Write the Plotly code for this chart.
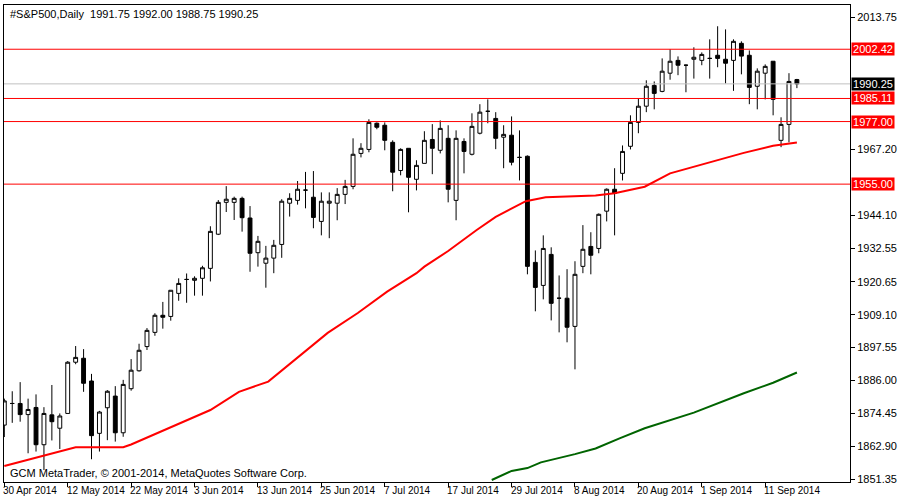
import plotly.graph_objects as go

opens = [1870.3,1877.9,1877.9,1874.0,1876.5,1863.4,1873.9,1869.2,1874.4,1892.4,
         1893.8,1885.8,1867.4,1876.4,1880.5,1867.6,1883.1,1889.4,1897.9,1902.9,
         1908.9,1908.5,1916.6,1921.5,1921.2,1921.9,1925.4,1937.4,1948.6,1948.6,
         1950.0,1943.1,1930.9,1927.2,1929.0,1933.8,1948.3,1949.3,1952.9,1950.4,
         1941.9,1948.3,1948.3,1951.4,1954.2,1965.8,1967.2,1976.4,1975.7,1969.7,
         1959.8,1967.6,1956.7,1962.3,1970.7,1966.9,1971.1,1949.3,1970.0,1965.5,
         1972.9,1980.6,1978.1,1971.5,1972.2,1964.4,1964.8,1927.5,1919.4,1930.3,
         1914.9,1914.9,1905.0,1926.1,1933.1,1932.4,1945.5,1953.2,1958.8,1968.3,
         1976.7,1982.4,1989.7,1987.6,1994.0,1998.5,1996.8,1998.9,1998.5,1999.2,
         2000.3,1998.9,1998.5,2004.5,2000.3,1989.4,1994.0,1998.2,1970.4,1976.0,
         1991.75]
highs = [1879.6,1882.2,1885.4,1879.6,1881.1,1876.6,1884.4,1874.4,1892.8,1898.1,
         1897.0,1888.3,1875.3,1882.6,1884.0,1886.2,1893.5,1898.9,1904.4,1909.6,
         1913.6,1917.7,1921.9,1923.6,1922.6,1926.3,1940.2,1949.4,1954.3,1950.6,
         1950.6,1947.3,1936.8,1933.3,1935.4,1949.7,1951.8,1956.1,1959.3,1959.6,
         1952.1,1952.1,1953.6,1956.5,1971.1,1969.4,1977.8,1976.7,1976.7,1970.4,
         1967.6,1967.6,1963.4,1973.6,1976.1,1977.4,1975.7,1973.9,1971.1,1979.9,
         1983.1,1984.8,1980.3,1975.7,1978.8,1973.9,1965.1,1931.7,1937.0,1932.8,
         1922.9,1925.1,1927.9,1940.6,1938.1,1944.7,1953.5,1960.6,1968.6,1979.2,
         1985.2,1991.5,1991.1,1999.2,2002.4,1999.9,1997.1,2003.1,2001.3,2005.9,
         2010.5,2009.4,2005.9,2005.2,2002.0,1995.7,1997.1,1998.2,1978.5,1994.0,
         1992.00]
lows = [1866.1,1871.1,1871.5,1860.4,1861.0,1854.5,1864.9,1861.9,1874.4,1891.7,
        1882.0,1858.3,1861.0,1865.0,1864.5,1866.2,1882.4,1889.1,1896.7,1901.7,
        1904.2,1907.0,1914.0,1913.3,1915.8,1915.8,1920.8,1937.1,1945.2,1942.4,
        1938.3,1924.2,1926.0,1918.6,1923.7,1929.1,1943.6,1947.8,1946.5,1939.5,
        1937.0,1936.0,1942.3,1948.0,1953.2,1964.4,1966.2,1974.3,1966.9,1952.5,
        1958.1,1945.1,1952.8,1962.3,1958.5,1965.8,1948.6,1942.3,1958.8,1965.1,
        1972.5,1976.4,1967.3,1960.6,1961.6,1956.3,1923.3,1910.3,1914.5,1907.1,
        1902.9,1899.4,1889.9,1923.7,1923.3,1930.7,1941.9,1937.0,1956.3,1967.2,
        1972.9,1980.3,1981.3,1987.3,1991.7,1993.3,1987.3,1992.1,1996.8,1992.1,
        1996.1,1990.4,1987.8,1993.6,1983.1,1981.3,1984.8,1979.2,1968.0,1969.7,
        1988.75]
closes = [1878.8,1877.9,1874.0,1875.8,1863.4,1874.4,1871.5,1873.5,1892.4,1894.1,
          1885.0,1866.6,1874.9,1882.2,1867.6,1884.6,1889.6,1896.6,1903.6,1908.9,
          1908.2,1917.7,1920.1,1921.5,1921.9,1925.6,1938.4,1948.6,1949.7,1950.0,
          1943.2,1930.7,1934.9,1929.0,1933.5,1949.0,1950.0,1953.2,1952.9,1943.3,
          1949.0,1949.0,1951.4,1954.2,1965.5,1967.6,1976.7,1975.0,1970.4,1959.2,
          1967.2,1957.4,1961.6,1970.4,1967.6,1974.6,1953.2,1971.1,1966.5,1975.3,
          1980.3,1980.6,1971.1,1972.5,1962.7,1964.4,1926.1,1918.7,1932.4,1913.1,
          1914.9,1904.7,1923.3,1932.1,1930.0,1944.4,1953.2,1951.8,1966.5,1976.7,
          1982.4,1989.4,1986.9,1994.7,1998.2,1996.8,1996.8,1999.6,2000.6,1999.2,
          1999.2,1997.5,2005.2,2000.0,1989.0,1994.7,1996.4,1984.8,1976.0,1991.1,
          1990.25]

ma_red_idx = [0,9,15,16,26,29.6,33.3,37,40.8,44.6,48.3,52,53,56,59.6,62,64.6,65.8,68.3,74.6,77,80.8,84,87,93.3,97,98.7,100]
ma_red_val = [1855.9,1862.5,1862.5,1863.5,1875.6,1882.0,1885.6,1893.9,1902.7,1909.7,1917.2,1923.7,1926.0,1931.5,1938.9,1943.5,1947.1,1949.0,1950.4,1951.0,1951.8,1954.1,1958.8,1961.1,1966.0,1968.5,1969.1,1969.6]
ma_green_idx = [61.5,64,66,67.7,72,74.6,77.7,80.8,87,93.3,97,100]
ma_green_val = [1851.0,1854.2,1855.2,1857.2,1860.1,1862.1,1865.7,1869.2,1874.7,1881.5,1885.2,1888.8]

date_tick_idx = [0,8,16,24,32,40,48,56,64,72,80,88,96]
date_tick_labels = ["30 Apr 2014","12 May 2014","22 May 2014","3 Jun 2014","13 Jun 2014",
                    "25 Jun 2014","7 Jul 2014","17 Jul 2014","29 Jul 2014","8 Aug 2014",
                    "20 Aug 2014","1 Sep 2014","11 Sep 2014"]
price_ticks = [2013.75,1967.20,1944.10,1932.55,1920.65,1909.10,1897.55,1886.00,1874.45,1862.90,1851.35]
red_levels = [2002.42,1985.11,1977.00,1955.00]
last_price = 1990.25

FONT = "Liberation Sans"
FS = 11
x = list(range(len(opens)))
fig = go.Figure()
for lv in red_levels:
    fig.add_shape(type="line", xref="paper", x0=0, x1=1, y0=lv, y1=lv, line=dict(color="#ff0000", width=1))
fig.add_shape(type="line", xref="paper", x0=0, x1=1, y0=last_price, y1=last_price, line=dict(color="#c0c0c0", width=1))

fig.add_trace(go.Scatter(x=ma_green_idx, y=ma_green_val, mode="lines", line=dict(color="#006400", width=2), hoverinfo="skip"))
fig.add_trace(go.Scatter(x=ma_red_idx, y=ma_red_val, mode="lines", line=dict(color="#ff0000", width=2), hoverinfo="skip"))
fig.add_trace(go.Candlestick(x=x, open=opens, high=highs, low=lows, close=closes,
    increasing=dict(fillcolor="white", line=dict(color="black", width=1)),
    decreasing=dict(fillcolor="black", line=dict(color="black", width=1)),
    whiskerwidth=0))

ann = []
for i, t in zip(date_tick_idx, date_tick_labels):
    ann.append(dict(x=i, y=0, xref="x", yref="paper", text=t, showarrow=False, xanchor="left",
                    yanchor="top", yshift=-1, xshift=-3, font=dict(family=FONT, size=10, color="black")))
for lv in red_levels:
    ann.append(dict(x=1, y=lv, xref="paper", yref="y", text=f"{lv:.2f}", showarrow=False, xanchor="left",
                    xshift=1, width=42, align="center", bgcolor="#ff0000", borderpad=0,
                    font=dict(family=FONT, size=FS, color="white")))
ann.append(dict(x=1, y=last_price, xref="paper", yref="y", text=f"{last_price:.2f}", showarrow=False, xanchor="left",
                xshift=1, width=42, align="center", bgcolor="black", borderpad=0,
                font=dict(family=FONT, size=FS, color="white")))
ann.append(dict(x=0, y=1, xref="paper", yref="paper", xanchor="left", yanchor="top", xshift=4, yshift=-1, showarrow=False,
                text="#S&P500,Daily  1991.75 1992.00 1988.75 1990.25", font=dict(family=FONT, size=FS, color="black")))
ann.append(dict(x=0, y=0, xref="paper", yref="paper", xanchor="left", yanchor="bottom", xshift=4, yshift=1, showarrow=False,
                text="GCM MetaTrader, © 2001-2014, MetaQuotes Software Corp.", font=dict(family=FONT, size=FS, color="black")))

fig.update_layout(
    width=900, height=500, margin=dict(l=3, r=43, t=5, b=18),
    paper_bgcolor="white", plot_bgcolor="white", showlegend=False, annotations=ann,
    xaxis=dict(range=[-0.04, 106.7], showgrid=False, zeroline=False, rangeslider=dict(visible=False),
               tickvals=date_tick_idx, ticktext=[""]*len(date_tick_idx), ticks="outside", ticklen=4,
               tickcolor="black", showline=True, linecolor="black", mirror=True),
    yaxis=dict(range=[1850.3, 2017.97], side="right", showgrid=False, zeroline=False,
               tickvals=price_ticks, ticktext=[f"{v:.2f}" for v in price_ticks], ticks="outside", ticklen=4,
               tickcolor="black", showline=True, linecolor="black", mirror=True,
               tickfont=dict(family=FONT, size=FS, color="black")),
)
fig.write_html("out.html", config={"displayModeBar": False},
               post_script="document.body.style.margin='0';document.body.style.overflow='hidden';")
